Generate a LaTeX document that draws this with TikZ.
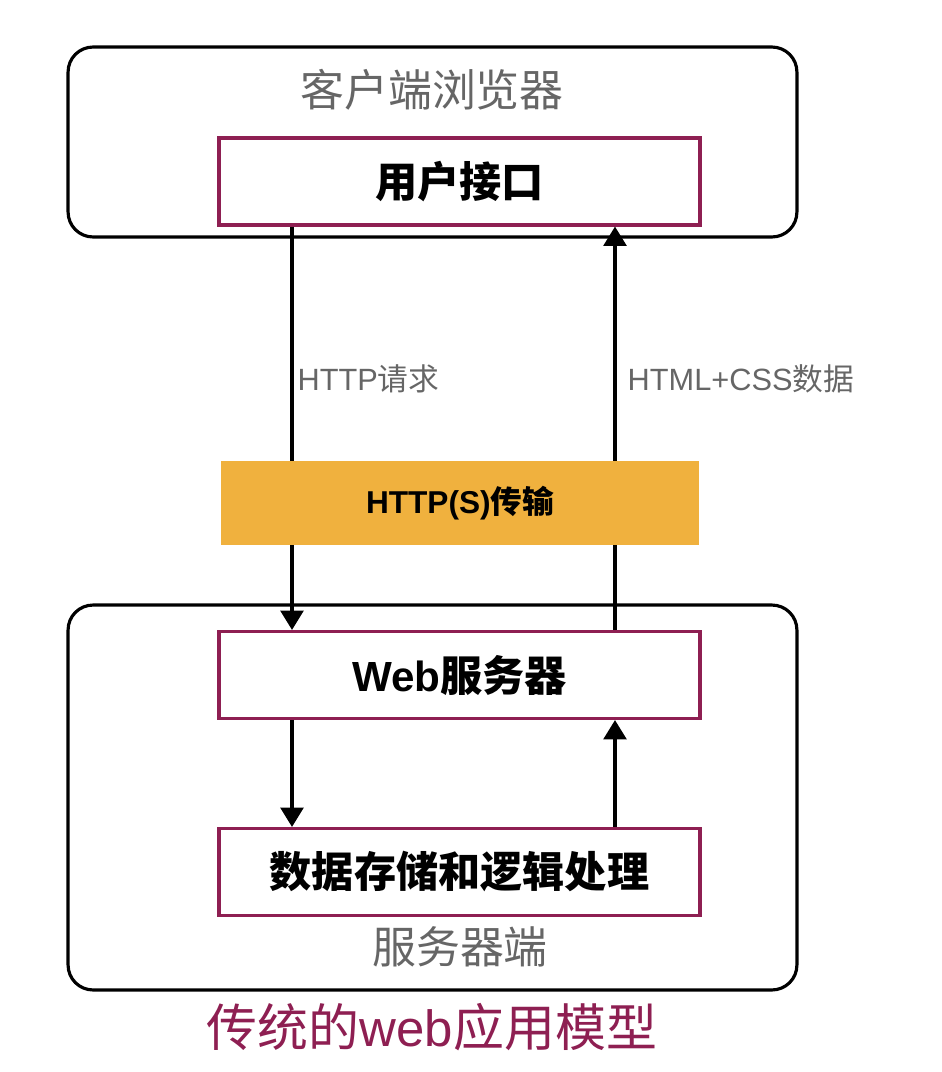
\documentclass[tikz,border=0pt]{standalone}
\usepackage{fontspec}
\setmainfont{Noto Sans CJK SC}
\newfontfamily\lat{Liberation Sans}
\usetikzlibrary{shapes, arrows.meta, positioning}
\definecolor{boxred}{HTML}{8E1F52}
\definecolor{textgray}{HTML}{666666}
\definecolor{tranorange}{HTML}{F0B13E}
\tikzstyle{side} = [rectangle, rounded corners=0.5cm, draw=black, line width=1.8pt, minimum width=14.58cm]
\tikzstyle{layer} = [rectangle, minimum width=9.62cm, minimum height=1.74cm, text centered, draw=boxred, line width=1.8pt, font=\fontsize{24}{28}\selectfont\bfseries]
\tikzstyle{transfer} = [rectangle, minimum width=9.56cm, minimum height=1.68cm, text centered, fill=tranorange, font=\fontsize{18}{22}\selectfont\bfseries]
\tikzstyle{caption} = [text=textgray, font=\fontsize{25}{30}\selectfont]
\tikzstyle{edgelabel} = [text=textgray, font=\fontsize{17.5}{21}\selectfont, anchor=west]
\tikzstyle{edge} = [line width=1.8pt, -{Triangle[width=13pt,length=11pt]}]

\begin{document}
\begin{tikzpicture}[x=0.02cm, y=-0.02cm]
\useasboundingbox (0,0) rectangle (942,1072);

% client side
\node (c) [side, minimum height=3.8cm] at (432.5,142) {};
\node (c0) [caption] at (432,90) {客户端浏览器};
\node (1) [layer] at (459.5,181.5) {用户接口};

% server side
\node (s) [side, minimum height=7.7cm] at (432.5,797.5) {};
\node (2) [layer] at (459.5,675) {{\lat\bfseries Web}服务器};
\node (3) [layer] at (459.5,872) {数据存储和逻辑处理};
\node (s0) [caption] at (460,947) {服务器端};

\coordinate (l) at (292,0);
\coordinate (r) at (615,0);

\draw [edge] (1.south -| l) -- node[edgelabel, pos=0.378, xshift=-1pt]{{\lat HTTP}请求} (2.north -| l);
\draw [edge] (2.north -| r) -- node[edgelabel, pos=0.622, xshift=3pt]{{\lat HTML+CSS}数据} (1.south -| r);
\draw [edge] (2.south -| l) -- (3.north -| l);
\draw [edge] (3.north -| r) -- (2.south -| r);

\node (h) [transfer] at (460,503) {{\lat\bfseries HTTP(S)}传输};

\node (t) [text=boxred, font=\fontsize{29}{34}\selectfont] at (432,1027) {传统的{\lat web}应用模型};
\end{tikzpicture}
\end{document}
